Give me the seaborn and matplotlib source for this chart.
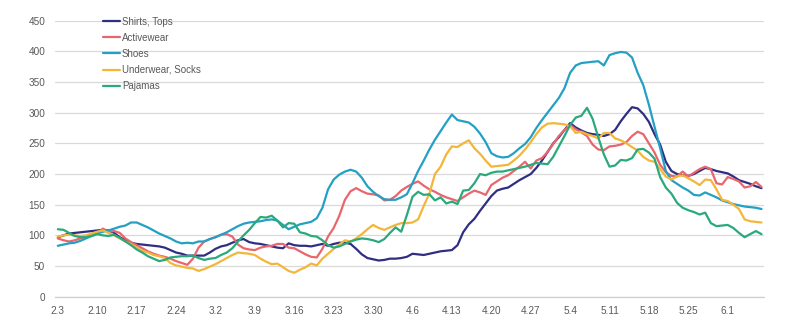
import numpy as np
import pandas as pd
import matplotlib
matplotlib.use("Agg")
import matplotlib.pyplot as plt
import seaborn as sns

# Daily index values, 2020-02-03 through 2020-06-07
dates = pd.date_range("2020-02-03", "2020-06-07", freq="D")

shirts_tops = [
    97, 100, 103, 104, 105, 106, 107, 108, 109, 108,
    104, 97, 92, 88, 86, 85, 84, 83, 82, 80,
    76, 72, 70, 67, 67, 67, 67, 72, 78, 82,
    84, 88, 92, 94, 89, 87, 86, 84, 82, 80,
    79, 87, 84, 83, 83, 82, 84, 86, 83, 86,
    88, 88, 86, 78, 69, 63, 61, 59, 60, 62,
    62, 63, 65, 70, 69, 68, 70, 72, 74, 75,
    76, 84, 105, 118, 127, 140, 152, 164, 173, 176,
    178, 184, 190, 195, 200, 210, 222, 236, 250, 260,
    272, 283, 276, 271, 267, 265, 264, 262, 265, 272,
    286, 298, 309, 307, 298, 285, 265, 248, 220, 205,
    200, 198, 197, 200, 205, 210, 208, 205, 203, 201,
    196, 190, 187, 184, 180, 177,
]

activewear = [
    95, 92, 90, 92, 95, 97, 100, 103, 111, 106,
    107, 104, 95, 89, 84, 79, 74, 70, 67, 65,
    62, 58, 55, 52, 62, 80, 90, 94, 97, 101,
    102, 98, 85, 79, 77, 76, 80, 82, 83, 86,
    86, 80, 79, 74, 69, 65, 64, 78, 98, 112,
    132, 158, 172, 177, 172, 168, 167, 165, 157, 158,
    164, 173, 179, 184, 188, 181, 175, 171, 166, 162,
    159, 156, 162, 168, 173, 170, 166, 182, 188, 194,
    198, 205, 212, 220, 209, 222, 226, 236, 249, 262,
    272, 280, 273, 268, 262, 248, 240, 239, 245, 246,
    248, 252, 262, 269, 265, 250, 235, 215, 203, 197,
    196, 204, 196, 202, 208, 212, 208, 185, 183, 195,
    192, 188, 178, 180, 187, 179,
]

shoes = [
    83, 85, 87, 88, 91, 95, 99, 103, 106, 108,
    111, 114, 116, 121, 121, 117, 113, 108, 103, 99,
    95, 90, 87, 88, 87, 90, 90, 94, 97, 101,
    105, 110, 115, 119, 121, 122, 123, 125, 126, 124,
    117, 110, 114, 118, 120, 122, 128, 145, 175, 191,
    199, 204, 207, 204, 194, 180, 171, 164, 159, 158,
    158, 162, 167, 185, 205, 222, 240, 256, 270, 284,
    297, 288, 286, 284, 277, 266, 252, 234, 229, 227,
    228, 234, 242, 249, 260, 275, 288, 300, 312, 324,
    340, 365, 377, 381, 382, 383, 384, 377, 394, 397,
    399, 398, 390, 365, 345, 313, 277, 242, 205, 190,
    184, 178, 173, 166, 165, 170, 166, 162, 157, 154,
    151, 149, 147, 146, 145, 143,
]

underwear_socks = [
    98, 100, 101, 100, 99, 100, 103, 106, 108, 104,
    100, 95, 90, 86, 80, 75, 72, 68, 66, 63,
    55, 51, 49, 47, 46, 42, 45, 49, 53, 58,
    63, 68, 72, 71, 70, 68, 62, 57, 53, 54,
    48, 42, 39, 44, 48, 54, 51, 62, 70, 78,
    85, 92, 90, 95, 102, 110, 117, 112, 109, 113,
    117, 120, 120, 121, 126, 148, 168, 200, 212, 232,
    245, 244, 250, 255, 242, 233, 222, 212, 213, 214,
    215, 222, 230, 240, 252, 265, 276, 282, 283, 282,
    281, 278, 267, 269, 265, 262, 258, 267, 267, 258,
    255, 250, 244, 238, 228, 222, 220, 208, 196, 191,
    196, 198, 193, 188, 182, 191, 190, 175, 158, 156,
    150, 143, 126, 123, 122, 121,
]

pajamas = [
    110, 109, 104, 99, 97, 97, 99, 102, 100, 99,
    101, 96, 90, 84, 77, 72, 66, 62, 58, 60,
    64, 65, 66, 66, 67, 63, 60, 62, 63, 68,
    72, 79, 90, 100, 109, 120, 130, 129, 132, 124,
    113, 120, 119, 105, 103, 99, 98, 92, 84, 80,
    82, 86, 90, 93, 95, 94, 92, 89, 94, 104,
    113, 106, 133, 163, 171, 166, 167, 157, 162, 152,
    155, 151, 173, 174, 185, 200, 198, 202, 204, 204,
    206, 208, 210, 212, 215, 218, 217, 216, 228, 245,
    262, 280, 292, 295, 308, 290, 260, 232, 212, 214,
    223, 222, 226, 240, 241, 235, 225, 195, 178, 168,
    153, 145, 141, 138, 134, 137, 120, 115, 116, 117,
    112, 104, 97, 102, 107, 102,
]

series_names = ["Shirts, Tops", "Activewear", "Shoes", "Underwear, Socks", "Pajamas"]
series_values = [shirts_tops, activewear, shoes, underwear_socks, pajamas]
series_colors = ["#302e80", "#e8666d", "#23a0c3", "#f4b63a", "#2aa97c"]

tick_labels = ["2.3", "2.10", "2.17", "2.24", "3.2", "3.9", "3.16", "3.23", "3.30",
               "4.6", "4.13", "4.20", "4.27", "5.4", "5.11", "5.18", "5.25", "6.1"]

frames = []
for name, vals in zip(series_names, series_values):
    frames.append(pd.DataFrame({"day": np.arange(len(dates)), "value": vals, "series": name}))
df = pd.concat(frames, ignore_index=True)

sns.set_style("white")
plt.rcParams["font.family"] = ["Liberation Sans", "DejaVu Sans"]

fig = plt.figure(figsize=(7.94, 3.34), dpi=100)
ax = fig.add_axes([0.0693, 0.1117, 0.8933, 0.8263])

sns.lineplot(data=df, x="day", y="value", hue="series", hue_order=series_names,
             palette=dict(zip(series_names, series_colors)), linewidth=1.6,
             ax=ax, legend=True)

n = len(dates)
ax.set_xlim(-0.5, n - 0.5)
ax.set_ylim(0, 450)
ax.set_yticks(np.arange(0, 451, 50))
ax.yaxis.grid(True, color="#d9d9d9", linewidth=0.9)
ax.xaxis.grid(False)
for side in ["top", "right", "left"]:
    ax.spines[side].set_visible(False)
ax.spines["bottom"].set_color("#d0d0d0")
ax.spines["bottom"].set_linewidth(0.9)

# tick marks on week boundaries, labels centred on each week's first day
ax.set_xticks(np.arange(-0.5, n, 7))
ax.set_xticklabels([])
ax.set_xticks(np.arange(0, 7 * len(tick_labels), 7), minor=True)
ax.set_xticklabels(tick_labels, minor=True)
ax.tick_params(axis="x", which="major", length=3.5, color="#c8c8c8", width=0.8, direction="out")
ax.tick_params(axis="x", which="minor", length=0, pad=7, labelsize=7.2, labelcolor="#595959")
ax.tick_params(axis="y", length=0, pad=7, labelsize=7.2, labelcolor="#595959")
ax.set_xlabel("")
ax.set_ylabel("")

handles, labels = ax.get_legend_handles_labels()
leg = ax.legend(handles, labels, loc="upper left", bbox_to_anchor=(0.067, 1.015),
                frameon=False, fontsize=7, handlelength=1.75, handletextpad=0.25,
                labelspacing=0.63, borderpad=0, borderaxespad=0)
for t in leg.get_texts():
    t.set_color("#595959")

fig.savefig("out.png", dpi=100)
